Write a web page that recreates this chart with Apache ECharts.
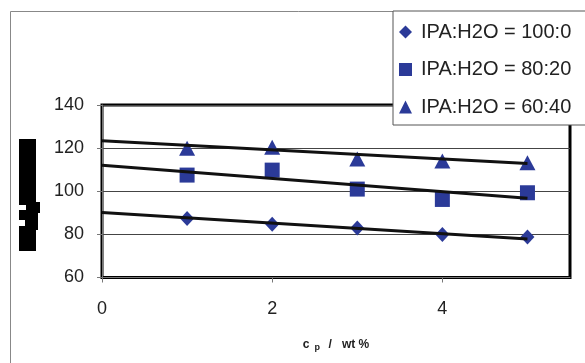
<!DOCTYPE html>
<html>
<head>
<meta charset="utf-8">
<script src="https://cdn.jsdelivr.net/npm/echarts@6/dist/echarts.min.js"></script>
<style>
html,body{margin:0;padding:0;background:#fff;}
#chart{width:585px;height:363px;}
</style>
</head>
<body>
<div id="chart"></div>
<script>
// ---- data ----
var xValues = [1, 2, 3, 4, 5];
var seriesNames = ['IPA:H2O = 100:0', 'IPA:H2O = 80:20', 'IPA:H2O = 60:40'];
var ipa100 = [87.4, 84.7, 83.0, 80.0, 78.8];
var ipa80 = [107.5, 109.8, 101.0, 96.2, 99.3];
var ipa60 = [120.0, 120.4, 115.0, 114.0, 113.2];
// trend lines (values at x=0 and x=5)
var trendX = [0, 5];
var trend100 = [90.2, 77.8];
var trend80 = [112.1, 96.7];
var trend60 = [123.4, 112.9];
var xTicks = [0, 2, 4];
var yTicks = [60, 80, 100, 120, 140];

function pairs(xs, ys) { return xs.map(function (x, i) { return [x, ys[i]]; }); }

var blue = '#2B3A98';
var font = 'Liberation Sans, Arial, sans-serif';

var chart = echarts.init(document.getElementById('chart'), null, {renderer: 'canvas'});
var option = {
  backgroundColor: '#fff',
  animation: false,
  grid: {left: 102, right: 15, top: 105, bottom: 85.5, show: true, borderColor: '#000', borderWidth: 3, backgroundColor: 'transparent'},
  legend: {
    data: seriesNames,
    orient: 'vertical',
    left: 393, top: 11,
    padding: [11, 40, 8, 6],
    itemGap: 17.5,
    itemWidth: 13, itemHeight: 13,
    backgroundColor: '#fff',
    borderColor: '#555', borderWidth: 1,
    textStyle: {fontFamily: font, fontSize: 20, color: '#222', lineHeight: 20, padding: [0, 0, 0, 4]},
    z: 10
  },
  xAxis: {
    type: 'value', min: 0, max: 5.5, interval: 2,
    splitLine: {show: false},
    axisLine: {show: true, lineStyle: {color: '#777', width: 1}},
    axisTick: {show: true, length: 5, customValues: xTicks, lineStyle: {color: '#777'}},
    axisLabel: {customValues: xTicks, margin: 23, fontFamily: font, fontSize: 18, color: '#222'},
    name: '{b|c}{s|p}{b|  /   wt %}',
    nameLocation: 'middle', nameGap: 59,
    nameTextStyle: {
      rich: {
        b: {fontFamily: font, fontSize: 12, fontWeight: 'bold', color: '#222', lineHeight: 16, verticalAlign: 'middle'},
        s: {fontFamily: font, fontSize: 9, fontWeight: 'bold', color: '#222', lineHeight: 16, verticalAlign: 'bottom', padding: [0, 2, 0, 5]}
      }
    }
  },
  yAxis: {
    type: 'value', min: 60, max: 140, interval: 20,
    splitLine: {show: true, lineStyle: {color: '#444', width: 1}},
    axisLine: {show: true, lineStyle: {color: '#777', width: 1}},
    axisTick: {show: true, length: 5, lineStyle: {color: '#777'}},
    axisLabel: {margin: 18, fontFamily: font, fontSize: 18, color: '#222', customValues: yTicks}
  },
  graphic: [
    {type: 'rect', shape: {x: 10.5, y: 11.5, width: 700, height: 500}, style: {fill: 'none', stroke: '#888', lineWidth: 1}, z: -1},
    {type: 'rect', shape: {x: 19, y: 139, width: 17, height: 112}, style: {fill: '#000'}, z: 5},
    {type: 'rect', shape: {x: 35, y: 202, width: 5, height: 11}, style: {fill: '#000'}, z: 5},
    {type: 'rect', shape: {x: 35, y: 212, width: 3, height: 18}, style: {fill: '#000'}, z: 5},
    {type: 'rect', shape: {x: 19, y: 205, width: 7, height: 5}, style: {fill: '#fff'}, z: 6},
    {type: 'rect', shape: {x: 19, y: 220, width: 6, height: 6}, style: {fill: '#fff'}, z: 6}
  ],
  series: [
    {name: seriesNames[0], type: 'scatter', data: pairs(xValues, ipa100), symbol: 'diamond', symbolSize: [14, 15], itemStyle: {color: blue, opacity: 1}, z: 2},
    {name: seriesNames[1], type: 'scatter', data: pairs(xValues, ipa80), symbol: 'rect', symbolSize: 15, itemStyle: {color: blue, opacity: 1}, z: 2},
    {name: seriesNames[2], type: 'scatter', data: pairs(xValues, ipa60), symbol: 'triangle', symbolSize: [16, 15], itemStyle: {color: blue, opacity: 1}, z: 2},
    {name: 't100', type: 'line', data: pairs(trendX, trend100), showSymbol: false, symbol: 'none', lineStyle: {color: '#111', width: 3}, z: 3},
    {name: 't80', type: 'line', data: pairs(trendX, trend80), showSymbol: false, symbol: 'none', lineStyle: {color: '#111', width: 3}, z: 3},
    {name: 't60', type: 'line', data: pairs(trendX, trend60), showSymbol: false, symbol: 'none', lineStyle: {color: '#111', width: 3}, z: 3}
  ]
};
chart.setOption(option);
</script>
</body>
</html>
